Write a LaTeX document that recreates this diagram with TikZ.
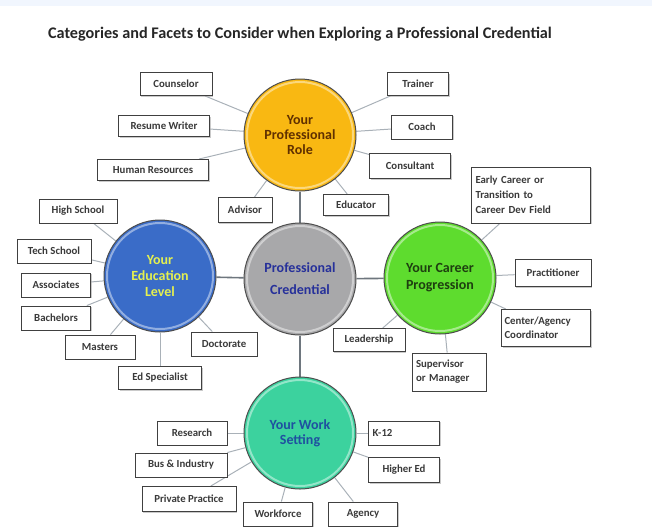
\documentclass[tikz,border=0pt]{standalone}
\usepackage{fontspec}
\setmainfont{Carlito}
\usetikzlibrary{shadows,backgrounds}
\definecolor{cOrange}{HTML}{F9B812}
\definecolor{cBlue}{HTML}{3A6CC8}
\definecolor{cGray}{HTML}{A8A8AA}
\definecolor{cGreen}{HTML}{5EDC2E}
\definecolor{cTeal}{HTML}{3CD29E}
\definecolor{boxText}{HTML}{3A3A3A}
\definecolor{lineGray}{HTML}{A9B1B8}
\definecolor{spokeGray}{HTML}{6E767E}
\definecolor{band}{HTML}{F1F6FE}
\tikzset{
  hub/.style={circle, minimum size=112pt, inner sep=0pt, draw=black!70, line width=1pt,
    font=\bfseries\fontsize{14}{15}\selectfont, align=center,
    path picture={\draw[white, opacity=0.45, line width=2pt] (path picture bounding box.center) circle (53pt);}},
  facet/.style={rectangle, draw=black!75, line width=0.9pt, fill=white, text=boxText,
    font=\bfseries\fontsize{10.8}{15}\selectfont, minimum height=23pt, inner sep=2pt,
    drop shadow={shadow xshift=1.2pt, shadow yshift=-1.2pt, fill=black!35, opacity=0.6}},
  link/.style={draw=lineGray, line width=1pt},
  spoke/.style={draw=spokeGray, line width=1.6pt}
}
\begin{document}
\begin{tikzpicture}[x=1pt,y=-1pt]
\useasboundingbox (0,0) rectangle (652,531);
\fill[band] (0,0) rectangle (652,6);
\node[font=\bfseries\fontsize{16.2}{18}\selectfont, text=black!85] (title) at (300,34)
  {Categories and Facets to Consider when Exploring a Professional Credential};

% hubs
\node[hub, fill=cOrange, text={rgb,255:red,96;green,48;blue,0}] (role) at (300,135) {Your\\Professional\\Role};
\node[hub, fill=cBlue, text={rgb,255:red,228;green,240;blue,80}, font=\bfseries\fontsize{14}{16}\selectfont] (edu) at (160,276) {Your\\Education\\Level};
\node[hub, fill=cGray, text={rgb,255:red,38;green,48;blue,154}, font=\bfseries\fontsize{14}{22}\selectfont] (cred) at (300,279) {Professional\\Credential};
\node[hub, fill=cGreen, text={rgb,255:red,30;green,63;blue,16}, font=\bfseries\fontsize{14}{17}\selectfont] (career) at (440,278) {Your Career\\Progression};
\node[hub, fill=cTeal, text={rgb,255:red,31;green,80;blue,160}, font=\bfseries\fontsize{14}{15}\selectfont] (work) at (300,433) {Your Work\\Setting};

% role facets
\node[facet, minimum width=72pt] (counselor) at (176,84) {Counselor};
\node[facet, minimum width=91pt, minimum height=21pt] (resume) at (164,126) {Resume Writer};
\node[facet, minimum width=111pt, minimum height=21pt] (hr) at (153,170) {Human Resources};
\node[facet, minimum width=54pt, minimum height=25pt] (advisor) at (245,210) {Advisor};
\node[facet, minimum width=61pt] (trainer) at (418,84) {Trainer};
\node[facet, minimum width=61pt, minimum height=24pt] (coach) at (422,127) {Coach};
\node[facet, minimum width=81pt, minimum height=25pt] (consultant) at (410,166) {Consultant};
\node[facet, minimum width=65pt, minimum height=21pt] (educator) at (356,205) {Educator};

% education facets
\node[facet, minimum width=78pt, minimum height=24pt] (high) at (78,211) {High School};
\node[facet, minimum width=74pt, minimum height=24pt] (tech) at (54,251) {Tech School};
\node[facet, minimum width=69pt, minimum height=24pt] (assoc) at (56,285) {Associates};
\node[facet, minimum width=69pt, minimum height=24pt] (bach) at (56,318) {Bachelors};
\node[facet, minimum width=70pt, minimum height=24pt] (masters) at (100,347) {Masters};
\node[facet, minimum width=66pt, minimum height=24pt] (doctor) at (224,344) {Doctorate};
\node[facet, minimum width=83pt, minimum height=23pt] (edspec) at (160,378) {Ed Specialist};

% career facets
\node[facet, minimum width=119pt, minimum height=56pt, text width=111pt, align=left, inner sep=4pt] (early) at (531,195) {Early Career or\\Transition to\\Career Dev Field};
\node[facet, minimum width=76pt, minimum height=27pt] (pract) at (553,273) {Practitioner};
\node[facet, minimum width=89pt, minimum height=37pt, text width=83pt, align=left, font=\bfseries\fontsize{10.8}{14}\selectfont] (center) at (546,328) {Center/Agency\\Coordinator};
\node[facet, minimum width=72pt, minimum height=23pt] (lead) at (369,340) {Leadership};
\node[facet, minimum width=74pt, minimum height=38pt, text width=66pt, align=left, font=\bfseries\fontsize{10.8}{14}\selectfont] (super) at (449,372) {Supervisor\\or Manager};

% work facets
\node[facet, minimum width=70pt, minimum height=24pt] (research) at (192,433) {Research};
\node[facet, minimum width=92pt, minimum height=24pt] (bus) at (181,465) {Bus \& Industry};
\node[facet, minimum width=94pt, minimum height=25pt] (private) at (189,499) {Private Practice};
\node[facet, minimum width=69pt, minimum height=24pt] (workforce) at (278,514) {Workforce};
\node[facet, minimum width=69pt, minimum height=24pt] (agency) at (363,514) {Agency};
\node[facet, minimum width=71pt, minimum height=24pt, text width=63pt, align=left] (k12) at (404,433) {K-12};
\node[facet, minimum width=71pt, minimum height=25pt] (higher) at (404,470) {Higher Ed};

\begin{scope}[on background layer]
\draw[spoke] (cred) -- (role);
\draw[spoke] (cred) -- (edu);
\draw[spoke] (cred) -- (career);
\draw[spoke] (cred) -- (work);
\foreach \b in {counselor,resume,hr,advisor,trainer,coach,consultant,educator}
  \draw[link] (role) -- (\b);
\foreach \b in {high,tech,assoc,bach,masters,doctor,edspec}
  \draw[link] (edu) -- (\b);
\foreach \b in {early,pract,center,lead,super}
  \draw[link] (career) -- (\b);
\foreach \b in {research,bus,private,workforce,agency,k12,higher}
  \draw[link] (work) -- (\b);
\end{scope}
\end{tikzpicture}
\end{document}
